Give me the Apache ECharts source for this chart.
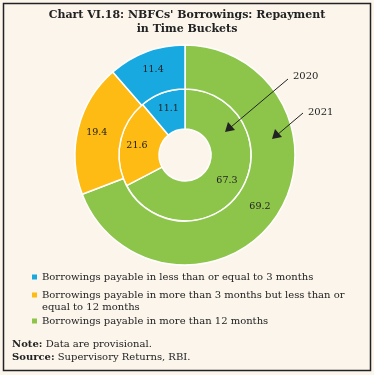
<!DOCTYPE html>
<html><head><meta charset="utf-8">
<script src="https://cdn.jsdelivr.net/npm/echarts@6/dist/echarts.min.js"></script>
<style>html,body{margin:0;padding:0;background:#FBF5EC}#c{width:374px;height:375px}</style>
</head><body><div id="c"></div>
<script>
const categories = [
  'Borrowings payable in more than 12 months',
  'Borrowings payable in more than 3 months but less than or',
  'Borrowings payable in less than or equal to 3 months'
];
const values2020 = [67.3, 21.6, 11.1];
const values2021 = [69.2, 19.4, 11.4];
const colors = ['#8DC54B', '#FDBB13', '#18A9E1'];
const years = ['2020', '2021'];

const font = '"DejaVu Serif", serif';
const chart = echarts.init(document.getElementById('c'));
const mk = (vals) => vals.map((v, i) => ({name: categories[i], value: v, itemStyle: {color: colors[i]}}));
const labelStyle = {show: true, position: 'inside', formatter: p => p.value.toFixed(1), color: '#222', fontFamily: font, fontSize: 9.5};
const legendBase = {orient: 'vertical', left: 27, itemWidth: 5, itemHeight: 5, icon: 'rect', selectedMode: false,
  itemStyle: {borderWidth: 0}, textStyle: {fontFamily: font, fontSize: 10, color: '#222'}, itemGap: 4};
chart.setOption({
  backgroundColor: '#FBF5EC',
  animation: false,
  title: {text: "Chart VI.18: NBFCs' Borrowings: Repayment\nin Time Buckets", left: 'center', top: 3,
    textStyle: {fontFamily: font, fontSize: 11, fontWeight: 'bold', color: '#222', lineHeight: 14}},
  legend: [
    Object.assign({}, legendBase, {top: 267, data: [categories[2]]}),
    Object.assign({}, legendBase, {top: 285, data: [categories[1]]}),
    Object.assign({}, legendBase, {top: 311, data: [categories[0]]})
  ],
  series: [
    {type: 'pie', name: years[0], center: [185, 155], radius: [26, 66], clockwise: true, startAngle: 90,
     label: labelStyle, labelLine: {show: false}, itemStyle: {borderColor: '#fff', borderWidth: 1.5},
     data: mk(values2020)},
    {type: 'pie', name: years[1], center: [185, 155], radius: [66, 110], clockwise: true, startAngle: 90,
     label: labelStyle, labelLine: {show: false}, itemStyle: {borderColor: '#fff', borderWidth: 1.5},
     data: mk(values2021)}
  ],
  graphic: [
    {type: 'rect', shape: {x: 3.5, y: 3.5, width: 367, height: 367}, style: {fill: 'none', stroke: '#222', lineWidth: 1.5}, z: 100},
    {type: 'text', left: 42, top: 302, style: {text: 'equal to 12 months', font: '10px ' + font, fill: '#222'}},
    {type: 'text', left: 293, top: 71, style: {text: years[0], font: '10px ' + font, fill: '#222'}, z: 100},
    {type: 'text', left: 308, top: 107, style: {text: years[1], font: '10px ' + font, fill: '#222'}, z: 100},
    {type: 'line', shape: {x1: 288, y1: 79, x2: 231, y2: 127}, style: {stroke: '#222', lineWidth: 1}, z: 100},
    {type: 'polygon', shape: {points: [[225, 132], [228, 122], [235, 130]]}, style: {fill: '#222'}, z: 100},
    {type: 'line', shape: {x1: 303, y1: 113, x2: 277, y2: 135}, style: {stroke: '#222', lineWidth: 1}, z: 100},
    {type: 'polygon', shape: {points: [[272, 139], [275, 129], [282, 137]]}, style: {fill: '#222'}, z: 100},
    {type: 'text', left: 12, top: 339, style: {rich: {b: {fontWeight: 'bold', fontFamily: font, fontSize: 10, fill: '#222'}, n: {fontFamily: font, fontSize: 10, fill: '#222'}},
      text: '{b|Note:} {n|Data are provisional.}', font: '10px ' + font}},
    {type: 'text', left: 12, top: 352, style: {rich: {b: {fontWeight: 'bold', fontFamily: font, fontSize: 10, fill: '#222'}, n: {fontFamily: font, fontSize: 10, fill: '#222'}},
      text: '{b|Source:} {n|Supervisory Returns, RBI.}', font: '10px ' + font}}
  ]
});
</script></body></html>
